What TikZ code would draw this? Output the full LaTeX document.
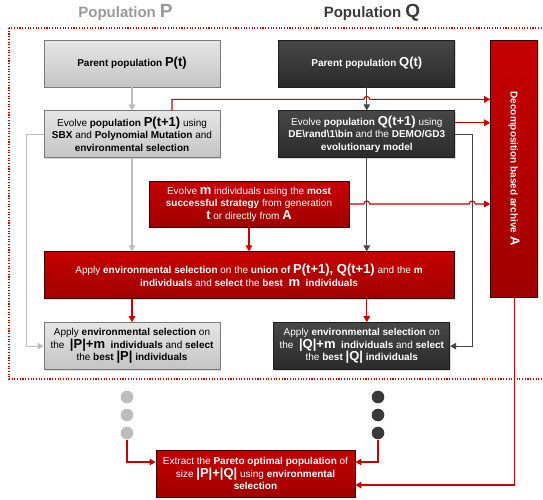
\documentclass[tikz,border=0pt]{standalone}
\usepackage{fontspec}
\setmainfont{Liberation Sans}
\usepackage{tikz}
\usetikzlibrary{positioning,calc,arrows.meta,shadows}
\definecolor{titlegray}{HTML}{9A9A9A}
\definecolor{titledark}{HTML}{3A3A3A}
\definecolor{lighttop}{HTML}{E6E6E6}
\definecolor{lightbottom}{HTML}{C4C4C4}
\definecolor{lightedge}{HTML}{7A7A7A}
\definecolor{darktop}{HTML}{474747}
\definecolor{darkbottom}{HTML}{2A2A2A}
\definecolor{darkedge}{HTML}{1E1E1E}
\definecolor{redtop}{HTML}{C60000}
\definecolor{redbottom}{HTML}{A00000}
\definecolor{rededge}{HTML}{3C0000}
\definecolor{linered}{HTML}{CC0000}
\definecolor{linegray}{HTML}{BDBDBD}
\definecolor{linedark}{HTML}{454545}
\newcommand{\bigsym}[1]{{\bfseries\fontsize{13}{12}\selectfont #1}}
\newcommand{\bigtitle}[1]{{\fontsize{19}{19}\selectfont #1}}

\begin{document}
\begin{tikzpicture}[
    x=1pt, y=1pt,
    node distance=23pt,
    box/.style={rectangle, minimum width=176pt, minimum height=47pt, inner sep=2pt, align=center, font=\fontsize{10}{12.5}\selectfont, line width=0.8pt, drop shadow={shadow xshift=1.2pt, shadow yshift=-1.2pt, opacity=0.3}},
    lightbox/.style={box, draw=lightedge, top color=lighttop, bottom color=lightbottom, text=black},
    darkbox/.style={box, draw=darkedge, top color=darktop, bottom color=darkbottom, text=white},
    redbox/.style={box, draw=rededge, top color=redtop, bottom color=redbottom, text=white},
    archtext/.style={rotate=-90, text=white, font=\fontsize{10}{12}\selectfont\bfseries},
    poptitle/.style={font=\fontsize{15}{15}\selectfont\bfseries},
    lightdot/.style={circle, fill=linegray, minimum size=12.6pt, inner sep=0pt},
    darkdot/.style={circle, fill=titledark, minimum size=12.6pt, inner sep=0pt},
    dotframe/.style={draw=linered, line width=1.1pt, dash pattern=on 1.1pt off 1.6pt},
    redline/.style={draw=linered, line width=1.1pt},
    redarrow/.style={redline, -{Triangle[length=6pt, width=6.5pt]}},
    grayarrow/.style={draw=linegray, line width=1.1pt, -{Triangle[length=6pt, width=6.5pt]}},
    darkarrow/.style={draw=linedark, line width=1.1pt, -{Triangle[length=6pt, width=6.5pt]}}
]
    \useasboundingbox (0,0) rectangle (543,-499);
    \clip (0,0) rectangle (543,-499);

    \draw[dotframe] (9,-28) rectangle (575,-379);

    \node[poptitle, text=titlegray] (ptitle) at (125.5,-13) {Population \bigtitle{P}};
    \node[poptitle, text=titledark] (qtitle) at (372,-13) {Population \bigtitle{Q}};

    \node[lightbox] (pparent) at (132,-63.5) {\textbf{Parent population} \bigsym{P(t)}};
    \node[lightbox, below=of pparent] (pevolve) {Evolve \textbf{population} \bigsym{P(t+1)} using\\ \textbf{SBX} and \textbf{Polynomial Mutation} and\\ \textbf{environmental selection}};
    \node[darkbox, right=58pt of pparent] (qparent) {\textbf{Parent population} \bigsym{Q(t)}};
    \node[darkbox, below=of qparent] (qevolve) {Evolve \textbf{population} \bigsym{Q(t+1)} using\\ \textbf{DE\textbackslash rand\textbackslash 1\textbackslash bin} and the \textbf{DEMO/GD3}\\ \textbf{evolutionary model}};
    \node[redbox, minimum width=47pt, minimum height=257pt, right=35pt of qparent.north east, anchor=north west] (archive) {};
    \node[archtext] (archlabel) at (archive.center) {Decomposition based archive \bigsym{A}};

    \node[redbox, minimum width=200pt, minimum height=46pt] (mbox) at (249,-204) {Evolve \bigsym{m} individuals using the \textbf{most}\\ \textbf{successful strategy} from generation\\ \bigsym{t} or directly from \bigsym{A}};
    \node[redbox, minimum width=410pt, below=24pt of mbox] (union) {Apply \textbf{environmental selection} on the \textbf{union of} \bigsym{P(t+1), Q(t+1)} and the \textbf{m}\\ \textbf{individuals} and \textbf{select} the \textbf{best} \ \bigsym{m} \ \textbf{individuals}};
    \node[lightbox, anchor=north west] (pselect) at ([yshift=-23pt]union.south west) {Apply \textbf{environmental selection} on\\ the \ \bigsym{|P|+m} \ \textbf{individuals} and \textbf{select}\\ the \textbf{best} \bigsym{|P|} \textbf{individuals}};
    \node[darkbox, right=53pt of pselect] (qselect) {Apply \textbf{environmental selection} on\\ the \ \bigsym{|Q|+m} \ \textbf{individuals} and \textbf{select}\\ the \textbf{best} \bigsym{|Q|} \textbf{individuals}};

    \foreach \y [count=\i] in {397,415,433} {
        \node[lightdot] (pdot\i) at (127,-\y) {};
        \node[darkdot] (qdot\i) at (378,-\y) {};
    }

    \node[redbox, minimum width=199pt] (final) at (255.5,-473.5) {Extract the \textbf{Pareto optimal population} of\\ size \bigsym{|P|+|Q|} using \textbf{environmental}\\ \textbf{selection}};

    \coordinate (h1) at ([yshift=11pt]pevolve.north -| qparent.south);
    \coordinate (h2) at (mbox.east -| qevolve.south);
    \coordinate (h3) at ($(mbox.east -| qevolve.east)+(17,0)$);

    \draw[grayarrow] (pparent) -- (pevolve);
    \draw[darkarrow] (qparent) -- (qevolve);
    \draw[grayarrow] (pevolve.south) -- (pevolve.south |- union.north);
    \draw[grayarrow] (pevolve.west) -- ++(-17,0) |- (pselect.west);
    \draw[darkarrow] (qevolve.south) -- (qevolve.south |- union.north);
    \draw[darkarrow] (qevolve.east) -- ++(17,0) |- (qselect.east);
    \draw[redarrow] ([xshift=40pt]pevolve.north) |- ([xshift=-3pt]h1) arc[start angle=180, end angle=0, radius=3pt] -- (archive.west |- h1);
    \draw[redarrow] ([yshift=11.5pt]qevolve.east) -- ([yshift=11.5pt]qevolve.east -| archive.west);
    \draw[redarrow] (mbox.east) -- ([xshift=-3pt]h2) arc[start angle=180, end angle=0, radius=3pt] -- ([xshift=-3pt]h3) arc[start angle=180, end angle=0, radius=3pt] -- (mbox.east -| archive.west);
    \draw[redarrow] (mbox) -- (union);
    \draw[redarrow] (pselect.north |- union.south) -- (pselect);
    \draw[redarrow] (qevolve.south |- union.south) -- (qevolve.south |- qselect.north);
    \draw[redarrow] (pdot3.south) |- ([yshift=11.5pt]final.west);
    \draw[redarrow] (qdot3.south) |- ([yshift=11.5pt]final.east);
    \draw[redarrow] (archive.south) |- ([yshift=-11.5pt]final.east);
\end{tikzpicture}
\end{document}
